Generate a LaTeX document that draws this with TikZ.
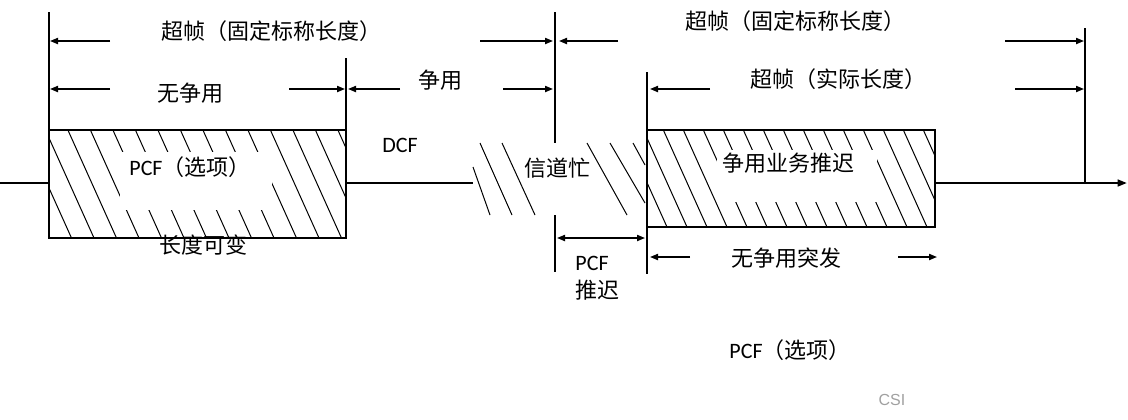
\documentclass[tikz,border=0pt]{standalone}
\usepackage{fontspec}
\usepackage{tikz}
\usepackage{xcolor}
\usetikzlibrary{arrows.meta,calc}
\newfontfamily\cjkfont{Noto Sans CJK SC}
\newfontfamily\latinfont{Carlito}
\newfontfamily\markfont{Liberation Sans}
\definecolor{sfInk}{RGB}{0,0,0}
\definecolor{sfMark}{RGB}{160,160,160}
\newcommand{\hatchrect}[5]{%
  \begin{scope}
    \clip (#1,#2) rectangle (#3,#4);
    \pgfmathsetmacro{\hdx}{0.45*(#4-#2)}
    \pgfmathtruncatemacro{\hn}{(#3-#1+\hdx)/#5+1}
    \foreach \k in {0,...,\hn}
      \draw[hatchline] ({#1-\hdx+\k*#5},#2) -- ++({\hdx},{#4-#2});
  \end{scope}
}

\begin{document}
\begin{tikzpicture}[x=0.75pt,y=-0.75pt,
  frame/.style={draw=sfInk,line width=1.7pt},
  tick/.style={draw=sfInk,line width=1.7pt},
  hatchline/.style={draw=sfInk,line width=0.75pt},
  dimarr/.style={draw=sfInk,line width=1.2pt,-{Triangle[length=6pt,width=4.6pt]}},
  cjk/.style={font=\cjkfont\fontsize{16.5}{19}\selectfont,inner sep=1pt},
  lat/.style={font=\latinfont\fontsize{16.5}{19}\selectfont,inner sep=1pt}]
  \useasboundingbox (0,0) rectangle (1128,419);
  % boxes and hatching
  \coordinate (b1nw) at (49,130);
  \coordinate (b1se) at (346,238);
  \coordinate (b2nw) at (647,130);
  \coordinate (b2se) at (935,227);
  \hatchrect{49}{130}{346}{238}{22.5}
  \hatchrect{647}{130}{935}{227}{20}
  \fill[white] (120,152) rectangle (272,210);
  \fill[white] (717,150) rectangle (877,202);
  % channel busy strokes
  \foreach \xa/\ya/\xb/\yb in {473/167/490/215,480/143/512/215,502/143/535/215,
    587/143/627/215,610/143/645/203,633/143/645/165}
    \draw[hatchline] (\xa,\ya) -- (\xb,\yb);
  \draw[frame] (b1nw) rectangle (b1se);
  \draw[frame] (b2nw) rectangle (b2se);
  % time line
  \coordinate (t0) at (0,183);
  \coordinate (t1) at (473,183);
  \coordinate (tend) at (1127,183);
  \draw[tick] (t0) -- (b1nw |- t0);
  \draw[tick] (b1se |- t0) -- (t1);
  \draw[tick,-{Triangle[length=7pt,width=5pt]}] (b2se |- t0) -- (tend);
  % boundary ticks
  \coordinate (v1) at (49,12);
  \coordinate (v2) at (346,58);
  \coordinate (v3a) at (555,12);
  \coordinate (v3b) at (555,143);
  \coordinate (v3c) at (555,215);
  \coordinate (v3d) at (555,272);
  \coordinate (v4a) at (647,72);
  \coordinate (v4b) at (647,274);
  \coordinate (v5) at (1085,28);
  \draw[tick] (v1) -- (b1nw);
  \draw[tick] (v2) -- (b1se |- b1nw);
  \draw[tick] (v3a) -- (v3b);
  \draw[tick] (v3c) -- (v3d);
  \draw[tick] (v4a) -- (v4b);
  \draw[tick] (v5) -- (v5 |- t0);
  % dimension arrows
  \foreach \nm/\xa/\xb/\yy in {fa/110/50/41,fb/480/553/41,fc/618/559/41,fd/1005/1084/41,
    na/110/50/89,nb/289/345/89,nc/400/348/89,nd/503/553/89,ne/710/650/89,nf/1015/1084/89,
    ua/690/650/257,ub/898/937/257}{
    \coordinate (\nm-s) at (\xa,\yy);
    \coordinate (\nm-e) at (\xb,\yy);
    \draw[dimarr] (\nm-s) -- (\nm-e);
  }
  \coordinate (pd-s) at (557,238);
  \coordinate (pd-e) at (645,238);
  \draw[dimarr,{Triangle[length=6pt,width=4.6pt]}-{Triangle[length=6pt,width=4.6pt]}] (pd-s) -- (pd-e);
  % labels
  \node[cjk] (fixA) at (271,31) {超帧（固定标称长度）};
  \node[cjk] (fixB) at (795,21) {超帧（固定标称长度）};
  \node[cjk] (free) at (190,93) {无争用};
  \node[cjk] (cont) at (440,80) {争用};
  \node[cjk] (real) at (838,79) {超帧（实际长度）};
  \node[lat] (dcf) at (400,145) {DCF};
  \node[lat] (pcfA) at (190,167) {PCF\cjkfont（选项）};
  \node[cjk] (vlen) at (203,245) {长度可变};
  \node[cjk] (busy) at (557,168) {信道忙};
  \node[cjk] (defer) at (788,163) {争用业务推迟};
  \node[lat] (pcfD) at (592,263) {PCF};
  \node[cjk] (pcfT) at (597,290) {推迟};
  \node[cjk] (burst) at (786,258) {无争用突发};
  \node[lat] (pcfB) at (790,350) {PCF\cjkfont（选项）};
  \node[font=\markfont\fontsize{12}{14}\selectfont,text=sfMark] (mark) at (892,400) {CSI};
\end{tikzpicture}
\end{document}
